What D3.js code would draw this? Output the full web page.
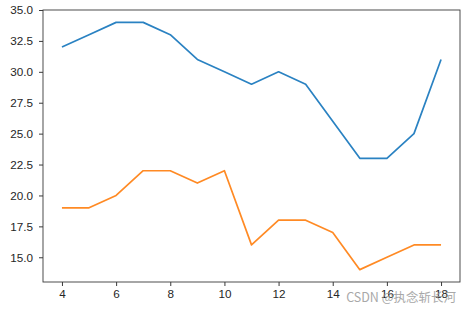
<!DOCTYPE html>
<html>
<head>
<meta charset="utf-8">
<script src="https://cdn.jsdelivr.net/npm/d3@7"></script>
<style>
  body { margin: 0; background: #fff; }
  svg { font-family: 'DejaVu Sans', sans-serif; }
</style>
</head>
<body>
<svg width="470" height="313"></svg>
<script>
// chart data
var xs = [4, 5, 6, 7, 8, 9, 10, 11, 12, 13, 14, 15, 16, 17, 18]
var blue = [32, 33, 34, 34, 33, 31, 30, 29, 30, 29, 26, 23, 23, 25, 31]
var orange = [19, 19, 20, 22, 22, 21, 22, 16, 18, 18, 17, 14, 15, 16, 16]
var xTicks = [4, 6, 8, 10, 12, 14, 16, 18]
var yTicks = [15, 17.5, 20, 22.5, 25, 27.5, 30, 32.5, 35]
var watermark = 'CSDN @执念斩长河'

var svg = d3.select('svg')
var margin = {top: 10, right: 10, bottom: 31, left: 43}
var width = 470 - margin.left - margin.right
var height = 313 - margin.top - margin.bottom
var g = svg.append('g')
  .attr('transform', 'translate(' + margin.left + ',' + margin.top + ')')

// matplotlib-style 5% padding
var x = d3.scaleLinear().domain([3.3, 18.7]).range([0, width])
var y = d3.scaleLinear().domain([13, 35]).range([height, 0])

var line = d3.line()
  .x((d) => x(d[0]))
  .y((d) => y(d[1]))

// x axis
var xg = g.append('g')
  .attr('transform', 'translate(0,' + height + ')')
  .call(d3.axisBottom(x).tickValues(xTicks).tickFormat(d3.format('d')).tickSize(4).tickPadding(4))
// y axis
var yg = g.append('g')
  .call(d3.axisLeft(y).tickValues(yTicks).tickFormat(d3.format('.1f')).tickSize(4).tickPadding(6))

;[xg, yg].forEach(function (a) {
  a.select('.domain').remove()
  a.selectAll('line').attr('stroke', '#222').attr('stroke-width', 0.9)
  a.selectAll('text').attr('fill', '#262626').style('font-size', '11.7px')
})

// frame
g.append('rect')
  .attr('width', width)
  .attr('height', height)
  .attr('fill', 'none')
  .attr('stroke', '#3a3a3a')
  .attr('stroke-width', 0.9)

// series
g.append('path')
  .datum(xs.map((v, i) => [v, blue[i]]))
  .attr('fill', 'none')
  .attr('stroke', '#2a82c2')
  .attr('stroke-width', 1.7)
  .attr('stroke-linejoin', 'round')
  .attr('d', line)

g.append('path')
  .datum(xs.map((v, i) => [v, orange[i]]))
  .attr('fill', 'none')
  .attr('stroke', '#ff8a24')
  .attr('stroke-width', 1.7)
  .attr('stroke-linejoin', 'round')
  .attr('d', line)

// watermark
svg.append('text')
  .attr('x', 456)
  .attr('y', 302)
  .attr('text-anchor', 'end')
  .attr('fill', '#9a9a9a')
  .style('font-family', "'Noto Sans CJK SC', sans-serif")
  .style('font-size', '12.5px')
  .style('opacity', 0.85)
  .text(watermark)
</script>
</body>
</html>
